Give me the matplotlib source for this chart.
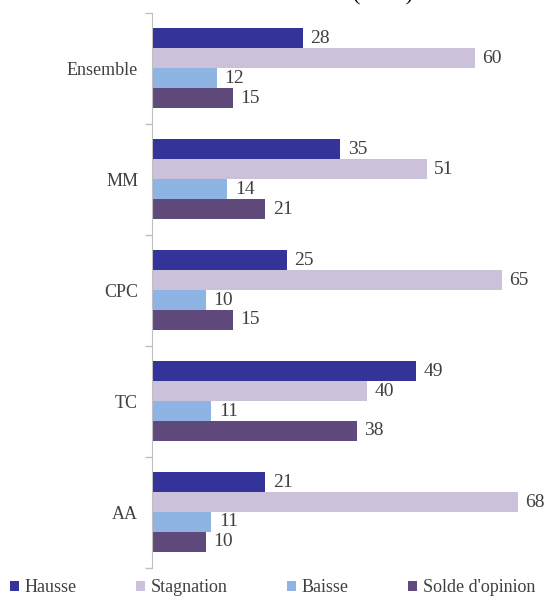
import numpy as np
import matplotlib.pyplot as plt

plt.rcParams['font.family'] = 'serif'
plt.rcParams['font.serif'] = ['Liberation Serif', 'DejaVu Serif']

categories = ['Ensemble', 'MM', 'CPC', 'TC', 'AA']
series = ['Hausse', 'Stagnation', 'Baisse', "Solde d'opinion"]
hausse = [28, 35, 25, 49, 21]
stagnation = [60, 51, 65, 40, 68]
baisse = [12, 14, 10, 11, 11]
solde = [15, 21, 15, 38, 10]
colors = ['#333399', '#ccc1da', '#8db4e2', '#604a7b']

values = [hausse, stagnation, baisse, solde]

fig = plt.figure(figsize=(5.45, 5.98), dpi=100)
ax = fig.add_axes([0.279, 0.051, 0.721, 0.928])

y = np.arange(len(categories))
h = 0.18
offsets = [-1.5 * h, -0.5 * h, 0.5 * h, 1.5 * h]

for vals, name, col, off in zip(values, series, colors, offsets):
    bars = ax.barh(y + off, vals, height=h, color=col, label=name)
    for b, v in zip(bars, vals):
        ax.text(b.get_width() + 1.4, b.get_y() + h / 2, str(v),
                va='center', ha='left', fontsize=14, color='#404040')

ax.set_ylim(len(categories) - 0.5, -0.5)
ax.set_xlim(0, 73)
ax.set_yticks(y)
ax.set_yticklabels(categories, fontsize=13, color='#404040')
ax.tick_params(axis='y', which='major', length=0, pad=10)
ax.set_yticks(np.arange(-0.5, len(categories)), minor=True)
ax.tick_params(axis='y', which='minor', length=5, color='#bfbfbf', width=1)
ax.set_xticks([])
for s in ['top', 'right', 'bottom']:
    ax.spines[s].set_visible(False)
ax.spines['left'].set_color('#bfbfbf')

# title cut off at top of the image
fig.text(0.703, 1.0, '(en %)', ha='center', va='baseline', fontsize=16)

handles, labels = ax.get_legend_handles_labels()
fig.legend(handles, labels, loc='center', bbox_to_anchor=(0.5, 0.017), ncol=4,
           frameon=False, fontsize=13, handlelength=0.5, handleheight=0.5,
           handletextpad=0.3, columnspacing=3.3, borderpad=0.1,
           labelcolor='#404040')

fig.savefig('out.png', dpi=100)
